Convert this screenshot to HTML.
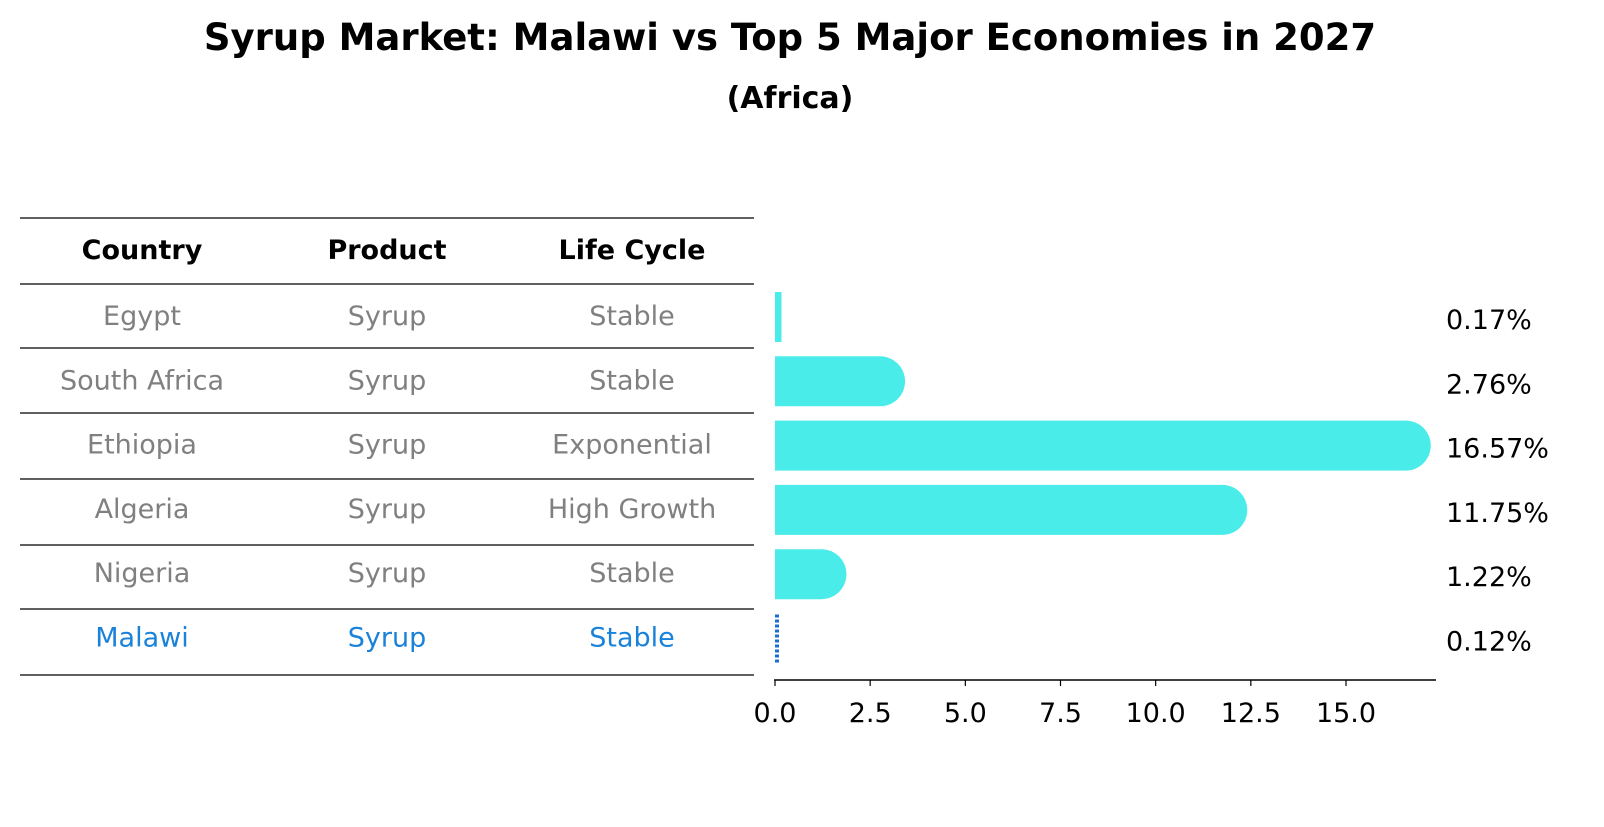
<!DOCTYPE html>
<html><head><meta charset="utf-8"><style>
body{margin:0;background:#fff;font-family:"DejaVu Sans","Liberation Sans",sans-serif;}
</style></head><body>
<svg width="1604" height="823" xmlns="http://www.w3.org/2000/svg" font-family="DejaVu Sans, Liberation Sans, sans-serif">
<text x="790" y="50" text-anchor="middle" font-size="37" font-weight="bold">Syrup Market: Malawi vs Top 5 Major Economies in 2027</text>
<text x="790" y="108" text-anchor="middle" font-size="30" font-weight="bold">(Africa)</text>
<g id="table"></g>
<g id="bars"></g>
</svg>
<script>
const countries=["Egypt","South Africa","Ethiopia","Algeria","Nigeria","Malawi"];
const products=["Syrup","Syrup","Syrup","Syrup","Syrup","Syrup"];
const lifeCycles=["Stable","Stable","Exponential","High Growth","Stable","Stable"];
const values=[0.17,2.76,16.57,11.75,1.22,0.12];
const valueLabels=["0.17%","2.76%","16.57%","11.75%","1.22%","0.12%"];
const ticks=[0,2.5,5,7.5,10,12.5,15];
const tickLabels=["0.0","2.5","5.0","7.5","10.0","12.5","15.0"];

const NS="http://www.w3.org/2000/svg";
function mk(tag,attrs,parent){const e=document.createElementNS(NS,tag);for(const k in attrs)e.setAttribute(k,attrs[k]);parent.appendChild(e);return e;}
const table=document.getElementById('table');
const bars=document.getElementById('bars');
const rowY=i=>317+i*64.3;
const x=v=>775+v*(571/15);
const lineYs=[218,284,348,413,479,545,609,675];
lineYs.forEach(y=>{const l=mk('line',{x1:20,x2:754,y1:y,y2:y,stroke:'#000','stroke-width':1.2},table);

});
const colX=[142,387,632];
["Country","Product","Life Cycle"].forEach((h,j)=>{const t=mk('text',{x:colX[j],y:259,'text-anchor':'middle','font-size':27,'font-weight':'bold'},table);t.textContent=h;

});
countries.forEach((c,i)=>{
 const col=c==="Malawi"?"#1a82d9":"#808080";
 [c,products[i],lifeCycles[i]].forEach((s,j)=>{const t=mk('text',{x:colX[j],y:rowY(i)+8,'text-anchor':'middle','font-size':27,fill:col},table);t.textContent=s;
 
 });
 const r=25,y=rowY(i),x0=x(0),x1=x(values[i]);
 let b;
 if(c==="Malawi"){
  b=mk('line',{x1:x0+2,x2:x0+2,y1:y-24,y2:y+24,stroke:'#1a6fd0','stroke-width':4,'stroke-dasharray':'3,2'},bars);
 }else if(x1-x0<r){
  b=mk('rect',{x:x0,y:y-r,width:Math.max(x1-x0,6),height:2*r,fill:'#4aecea'},bars);
 }else{
  b=mk('path',{d:`M${x0},${y-r} L${x1},${y-r} A${r},${r} 0 0 1 ${x1},${y+r} L${x0},${y+r} Z`,fill:'#4aecea'},bars);
 }
 
 
 const t=mk('text',{x:1446,y:y+12,'font-size':27},bars);t.textContent=valueLabels[i];
 
 
});
const ax=mk('line',{x1:774,x2:1436,y1:680,y2:680,stroke:'#000','stroke-width':1.5},bars);


ticks.forEach((v,k)=>{const l=mk('line',{x1:x(v),x2:x(v),y1:680,y2:686,stroke:'#000','stroke-width':1.2},bars);


const t=mk('text',{x:x(v),y:722,'text-anchor':'middle','font-size':27},bars);t.textContent=tickLabels[k];

});
</script>
</body></html>
